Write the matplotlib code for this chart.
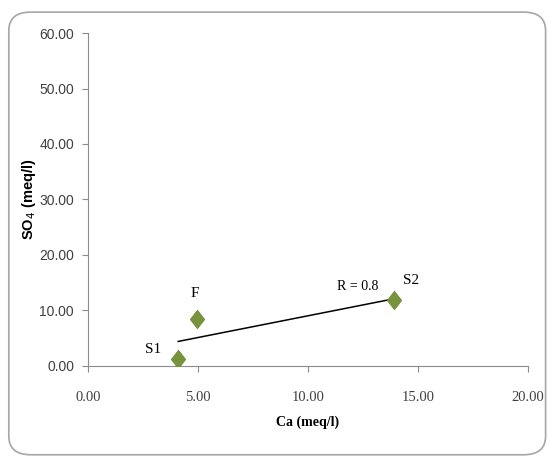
import matplotlib.pyplot as plt
import numpy as np
from matplotlib.patches import FancyBboxPatch

# sample values
sample_names = ["S1", "F", "S2"]
ca_values = [4.1, 4.95, 13.9]
so4_values = [1.3, 8.5, 11.8]
r_label = "R = 0.8"

x_ticks = [0, 5, 10, 15, 20]
y_ticks = [0, 10, 20, 30, 40, 50, 60]

marker_color = "#77933C"
axis_color = "#8c8c8c"

plt.rcParams['font.family'] = ['Liberation Serif', 'DejaVu Serif']

fig = plt.figure(figsize=(5.5, 4.65), dpi=100)

# rounded chart border, like an Excel chart area
border = FancyBboxPatch((0.016, 0.022), 0.976, 0.952,
                        boxstyle="round,pad=0,rounding_size=0.04",
                        transform=fig.transFigure, facecolor="white",
                        edgecolor="#a6a6a6", linewidth=1.2, zorder=-1)
fig.patches.append(border)

ax = fig.add_axes([0.16, 0.213, 0.80, 0.716])
ax.set_facecolor("none")

# linear trendline over the data range
slope, intercept = np.polyfit(ca_values, so4_values, 1)
x_fit = np.array([min(ca_values), max(ca_values)])
ax.plot(x_fit, slope * x_fit + intercept, color="black", linewidth=1.1, zorder=2)

# slightly narrow diamond, like the Excel marker
diamond = [(0, 1), (0.78, 0), (0, -1), (-0.78, 0), (0, 1)]
ax.scatter(ca_values, so4_values, marker=diamond, s=180, color=marker_color,
           edgecolor="#6b8a35", linewidth=0.5, zorder=3)

offsets = {"S1": (-1.5, 1.7), "F": (-0.3, 4.5), "S2": (0.4, 3.6)}
for name, x, y in zip(sample_names, ca_values, so4_values):
    dx, dy = offsets[name]
    ax.text(x + dx, y + dy, name, fontsize=11, ha="left", va="center")
ax.text(ca_values[2] - 2.6, so4_values[2] + 2.6, r_label, fontsize=10,
        ha="left", va="center")

ax.set_xlim(0, 20)
ax.set_ylim(0, 60)
ax.set_xticks(x_ticks)
ax.set_yticks(y_ticks)
ax.set_xticklabels([f"{t:.2f}" for t in x_ticks], fontsize=10.5)
ax.set_yticklabels([f"{t:.2f}" for t in y_ticks], fontsize=10,
                   family=['Liberation Sans', 'DejaVu Sans'])

for side in ["top", "right"]:
    ax.spines[side].set_visible(False)
ax.spines["left"].set_color(axis_color)
ax.spines["bottom"].set_color(axis_color)
ax.tick_params(axis="both", colors=axis_color, length=4, width=0.8, labelcolor="#404040")
ax.tick_params(axis="x", pad=14)
ax.tick_params(axis="y", pad=6)

ax.set_xlabel("Ca (meq/l)", fontsize=10, fontweight="bold", labelpad=8)
ax.set_ylabel("SO$_4$ (meq/l)", fontsize=10.5, fontweight="bold", labelpad=1,
              family=['Liberation Sans', 'DejaVu Sans'])

fig.savefig("out.png", dpi=100)
